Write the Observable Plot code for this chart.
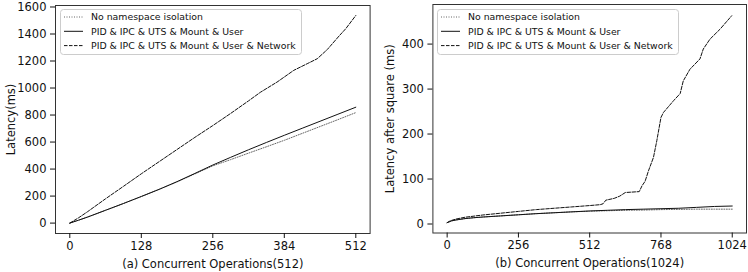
<!DOCTYPE html>
<html><head><meta charset="utf-8">
<script src="https://cdn.jsdelivr.net/npm/d3@7"></script>
<script src="https://cdn.jsdelivr.net/npm/@observablehq/plot@0.6"></script>
<style>
html,body{margin:0;padding:0;background:#fff;}
#row{display:flex;width:748px;height:272px;}
.panel{position:relative;width:374px;height:272px;}
.panel svg.legend{position:absolute;}
</style></head><body><div id="row"></div>
<script>
const seriesNames = ["No namespace isolation", "PID & IPC & UTS & Mount & User", "PID & IPC & UTS & Mount & User & Network"];

// Panel (a)
const aTicksX = [0, 128, 256, 384, 512];
const aTicksY = [0, 200, 400, 600, 800, 1000, 1200, 1400, 1600];
const aX = [0, 16, 32, 64, 96, 128, 160, 192, 224, 256, 288, 320, 352, 384, 416, 448, 480, 512];
const aNone = [0, 22, 45, 95, 145, 197, 250, 305, 364, 424, 470, 518, 565, 613, 664, 715, 766, 818];
const aUser = [0, 22, 45, 95, 145, 197, 250, 307, 368, 430, 487, 543, 597, 650, 702, 754, 806, 858];
const aNetX = [0, 16, 32, 64, 96, 128, 160, 192, 224, 256, 288, 320, 341, 371, 401, 425, 443, 461, 482, 494, 512];
const aNet = [0, 40, 85, 180, 272, 365, 455, 545, 635, 722, 812, 905, 968, 1044, 1131, 1180, 1217, 1285, 1385, 1439, 1537];

// Panel (b)
const bTicksX = [0, 256, 512, 768, 1024];
const bTicksY = [0, 100, 200, 300, 400];
const bX = [0, 8, 16, 32, 64, 96, 128, 192, 256, 320, 384, 448, 512, 576, 640, 704, 768, 832, 896, 960, 1024];
const bNone = [3, 5, 7, 9, 12, 14, 15.5, 18, 20.5, 23, 25, 27, 28.5, 29.5, 30.5, 31, 32, 32.5, 33, 33, 33];
const bUser = [3, 5, 7, 9, 12, 14, 15.5, 18, 20.5, 23, 25, 27, 29, 30.5, 32, 33, 34, 35, 37, 39, 40];
const bNetX = [0, 8, 16, 32, 64, 128, 192, 256, 320, 384, 448, 512, 550, 560, 570, 600, 620, 640, 690, 700, 711, 723, 741, 753, 768, 777, 813, 837, 848, 872, 908, 920, 944, 980, 1022];
const bNet = [3, 6, 8, 11, 15, 20, 24, 28, 32, 35, 38, 41, 43, 45, 53, 57, 62, 70, 72, 85, 95, 118, 148, 185, 237, 248, 274, 290, 318, 344, 367, 389, 411, 433, 463];

const styles = [
  {stroke: "#666", dash: "1,1.5"},
  {stroke: "#111", dash: null},
  {stroke: "#111", dash: "3.5,1.5"}
];

function rows(xs, ys) { return xs.map((x, i) => ({x, y: ys[i]})); }

const row = document.getElementById("row");

function panel(cfg) {
  const series = [rows(cfg.x0, cfg.y0), rows(cfg.x0, cfg.y1), rows(cfg.x2, cfg.y2)];
  const plot = Plot.plot({
    width: 374, height: 272,
    marginLeft: cfg.ml, marginRight: cfg.mr, marginTop: cfg.mt, marginBottom: cfg.mb,
    style: {fontFamily: "DejaVu Sans", fontSize: "11.5px", color: "#111", background: "#fff"},
    x: {domain: cfg.xd, label: null},
    y: {domain: cfg.yd, label: null},
    marks: [
      ...series.map((d, i) => Plot.line(d, {x: "x", y: "y", stroke: styles[i].stroke, strokeWidth: 1, strokeDasharray: styles[i].dash})),
      Plot.frame({stroke: "#333", strokeWidth: 1}),
      Plot.axisX({ticks: cfg.tx, tickSize: 5, tickPadding: 3, tickFormat: d => String(d), label: cfg.xl, labelAnchor: "center", labelArrow: "none", labelOffset: 34}),
      Plot.axisY({ticks: cfg.ty, tickSize: 5, tickPadding: 4, tickFormat: d => String(d), label: cfg.yl, labelAnchor: "center", labelArrow: "none", labelOffset: cfg.ylo})
    ]
  });
  const wrap = document.createElement("div");
  wrap.className = "panel";
  wrap.appendChild(plot);
  row.appendChild(wrap);
  // legend
  const lw = 241, lh = 45;
  const svg = d3.create("svg").attr("class", "legend").attr("width", lw + 2).attr("height", lh + 2)
    .style("left", (cfg.ml + 5) + "px").style("top", "9px");
  wrap.appendChild(svg.node());
  svg.append("rect").attr("x", 0.5).attr("y", 0.5).attr("width", lw).attr("height", lh).attr("rx", 3)
    .attr("fill", "rgba(255,255,255,0.8)").attr("stroke", "#ccc");
  const texts = [];
  seriesNames.forEach((name, i) => {
    const yy = 8 + i * 14.3;
    svg.append("line").attr("x1", 4).attr("x2", 23).attr("y1", yy).attr("y2", yy)
      .attr("stroke", styles[i].stroke).attr("stroke-width", 1).attr("stroke-dasharray", styles[i].dash);
    texts.push(svg.append("text").attr("x", 31).attr("y", yy).attr("dy", "0.35em")
      .attr("font-family", "DejaVu Sans").attr("font-size", "10px").attr("fill", "#111").text(name));
  });
  // fit longest entry to the legend box width
  const longest = d3.max(texts, t => t.node().getComputedTextLength());
  const fs = Math.min(10, 10 * 205 / longest);
  texts.forEach(t => t.attr("font-size", fs + "px"));
}

panel({
  x0: aX, y0: aNone, y1: aUser, x2: aNetX, y2: aNet,
  xd: [-25.6, 537.6], yd: [-77, 1611], tx: aTicksX, ty: aTicksY,
  ml: 55, mr: 4.4, mt: 5, mb: 39,
  xl: "(a) Concurrent Operations(512)", yl: "Latency(ms)", ylo: 49
});
panel({
  x0: bX, y0: bNone, y1: bUser, x2: bNetX, y2: bNet,
  xd: [-51.2, 1075.2], yd: [-20, 488], tx: bTicksX, ty: bTicksY,
  ml: 58.4, mr: 2, mt: 4, mb: 39.5,
  xl: "(b) Concurrent Operations(1024)", yl: "Latency after square (ms)", ylo: 47
});
</script>
</body></html>
